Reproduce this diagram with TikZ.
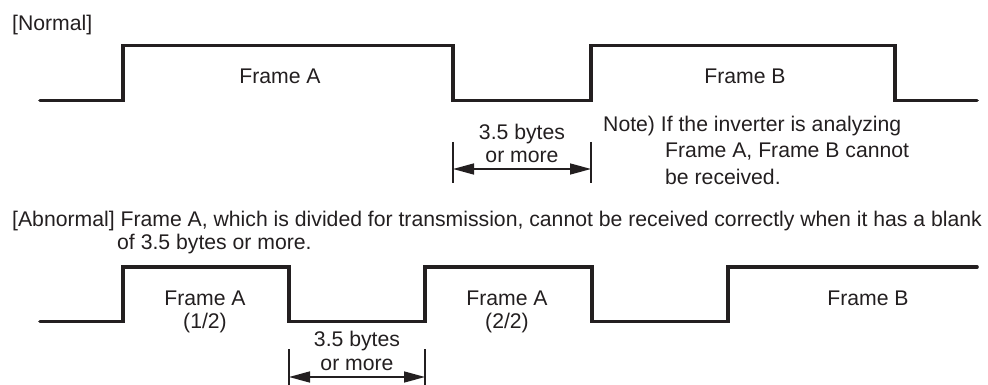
\documentclass[tikz,border=0pt]{standalone}
\usepackage{fontspec}
\setmainfont{Liberation Sans}
\usetikzlibrary{arrows.meta}
\definecolor{ink}{HTML}{231F20}
\begin{document}
\begin{tikzpicture}[x=1pt,y=-1pt,
  wave/.style={draw=ink, line width=3.6pt, line join=miter, line cap=round},
  txt/.style={font=\fontsize{21.2}{25}\selectfont, text=ink, inner sep=0pt},
  tickline/.style={draw=ink, line width=1.5pt},
  dimline/.style={draw=ink, fill=ink, line width=1.5pt, {Triangle[length=21pt,width=11pt]}-{Triangle[length=21pt,width=11pt]}}
]
\useasboundingbox (0,0) rectangle (988,385);

% ---------- Normal ----------
\node[txt, anchor=base west] (hnormal) at (12,30.5) {[Normal]};

\coordinate (n0) at (40,100.5);
\coordinate (n1) at (123,100.5);
\coordinate (n2) at (123,45.5);
\coordinate (n3) at (453,45.5);
\coordinate (n4) at (453,100.5);
\coordinate (n5) at (591,100.5);
\coordinate (n6) at (591,45.5);
\coordinate (n7) at (895,45.5);
\coordinate (n8) at (895,100.5);
\coordinate (n9) at (977,100.5);
\draw[wave] (n0) -- (n1) -- (n2) -- (n3) -- (n4) -- (n5) -- (n6) -- (n7) -- (n8) -- (n9);

\node[txt, anchor=base] (nfa) at (280,84) {Frame A};
\node[txt, anchor=base] (nfb) at (745,84) {Frame B};

\coordinate (nt1a) at (453,142);
\coordinate (nt1b) at (453,183);
\coordinate (nt2a) at (591,142);
\coordinate (nt2b) at (591,183);
\draw[tickline] (nt1a) -- (nt1b);
\draw[tickline] (nt2a) -- (nt2b);
\coordinate (nd1) at (453,169);
\coordinate (nd2) at (591,169);
\draw[dimline] (nd1) -- (nd2);
\node[txt, anchor=base] (nby1) at (522,140) {3.5 bytes};
\node[txt, anchor=base] (nby2) at (522,162.7) {or more};

\node[txt, anchor=base west] (note1) at (603,131.5) {Note) If the inverter is analyzing};
\node[txt, anchor=base west] (note2) at (665,157.5) {Frame A, Frame B cannot};
\node[txt, anchor=base west] (note3) at (665,184) {be received.};

% ---------- Abnormal ----------
\node[txt, anchor=base west] (hab1) at (12,226) {[Abnormal] Frame A, which is divided for transmission, cannot be received correctly when it has a blank};
\node[txt, anchor=base west] (hab2) at (117,249.5) {of 3.5 bytes or more.};

\coordinate (a0) at (40,321.5);
\coordinate (a1) at (123,321.5);
\coordinate (a2) at (123,267);
\coordinate (a3) at (289,267);
\coordinate (a4) at (289,321.5);
\coordinate (a5) at (425,321.5);
\coordinate (a6) at (425,267);
\coordinate (a7) at (592,267);
\coordinate (a8) at (592,321.5);
\coordinate (a9) at (728,321.5);
\coordinate (a10) at (728,267);
\coordinate (a11) at (977,267);
\draw[wave] (a0) -- (a1) -- (a2) -- (a3) -- (a4) -- (a5) -- (a6) -- (a7) -- (a8) -- (a9) -- (a10) -- (a11);

\node[txt, anchor=base] (afa1) at (205,305) {Frame A};
\node[txt, anchor=base] (afa1b) at (205,328.5) {(1/2)};
\node[txt, anchor=base] (afa2) at (507,305) {Frame A};
\node[txt, anchor=base] (afa2b) at (507,328.5) {(2/2)};
\node[txt, anchor=base] (afb) at (868,305) {Frame B};

\coordinate (at1a) at (289,349);
\coordinate (at1b) at (289,386);
\coordinate (at2a) at (425,349);
\coordinate (at2b) at (425,386);
\draw[tickline] (at1a) -- (at1b);
\draw[tickline] (at2a) -- (at2b);
\coordinate (ad1) at (289,377);
\coordinate (ad2) at (425,377);
\draw[dimline] (ad1) -- (ad2);
\node[txt, anchor=base] (aby1) at (357,346.7) {3.5 bytes};
\node[txt, anchor=base] (aby2) at (357,370.7) {or more};
\end{tikzpicture}
\end{document}
